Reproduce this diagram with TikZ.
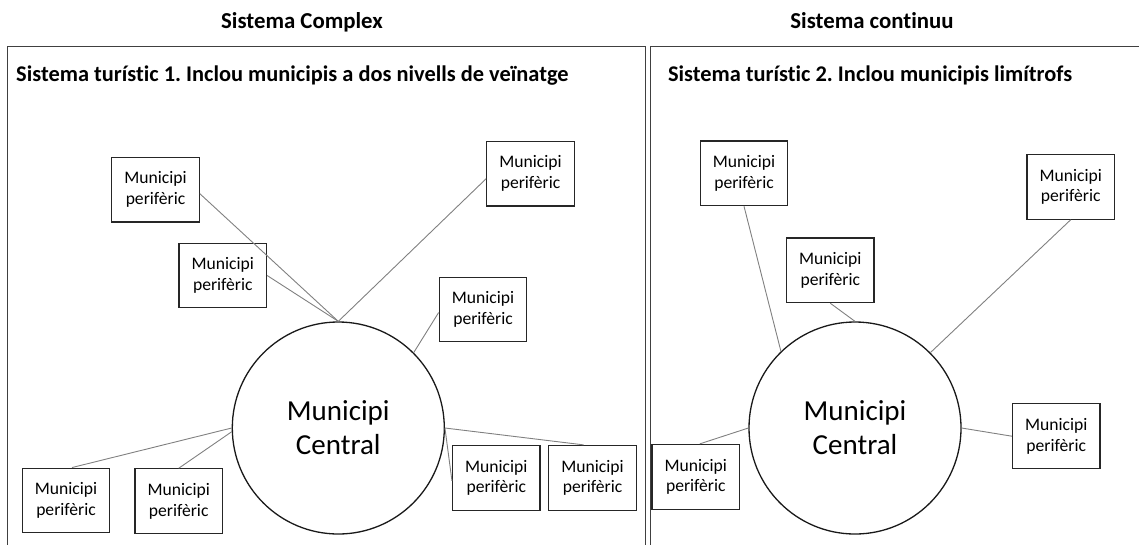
\documentclass[tikz,border=0pt]{standalone}
\usepackage{fontspec}
\setmainfont{Carlito}[Ligatures={NoCommon}]
\frenchspacing
\begin{document}
\begin{tikzpicture}[x=1pt,y=-1pt,
  peri/.style={rectangle, draw=black!85, line width=1.2pt, minimum width=87.5pt, minimum height=64.7pt, inner sep=0pt, align=center, font=\fontsize{17.6}{20.7}\selectfont},
  central/.style={circle, draw=black!90, line width=1.3pt, minimum size=212pt, inner sep=0pt, align=center, font=\fontsize{29}{34}\selectfont},
  link/.style={draw=black!50, line width=0.9pt},
  frame/.style={draw=black!75, line width=1.4pt},
  title/.style={anchor=base, font=\bfseries\fontsize{22.8}{26}\selectfont},
  subtitle/.style={anchor=base west, font=\bfseries\fontsize{22.4}{26}\selectfont}]
\useasboundingbox (0,0) rectangle (1139,544);
% frames
\draw[frame] (7.3,560) -- (7.3,46.7) -- (645.7,46.7) -- (645.7,560);
\draw[frame] (650.7,560) -- (650.7,46.7) -- (1150,46.7);
% titles
\node[title] (t1) at (302,28) {Sistema Complex};
\node[title] (t2) at (872,28) {Sistema continuu};
\node[subtitle] (s1) at (12.7,81) {Sistema turístic 1. Inclou municipis a dos nivells de veïnatge};
\node[subtitle] (s2) at (664.5,81) {Sistema turístic 2. Inclou municipis limítrofs};
% left system
\node[central] (L) at (338.3,428) {Municipi\\Central};
\node[peri] (A) at (155.5,189.7) {Municipi\\perifèric};
\node[peri] (B) at (222.8,275.5) {Municipi\\perifèric};
\node[peri] (C) at (530.5,173.7) {Municipi\\perifèric};
\node[peri] (D) at (483,309.5) {Municipi\\perifèric};
\node[peri] (E) at (66,500.5) {Municipi\\perifèric};
\node[peri] (F) at (178.7,501.2) {Municipi\\perifèric};
\node[peri] (G) at (496.3,477.8) {Municipi\\perifèric};
\node[peri] (H) at (592.5,477.8) {Municipi\\perifèric};
\draw[link] ([yshift=-4pt]A.east) -- (L.north);
\draw[link] (B.east) -- (L.north);
\draw[link] ([yshift=-5pt]C.west) -- (L.north);
\draw[link] ([yshift=-3pt]D.west) -- (L.45);
\draw[link] ([xshift=6pt]E.north) -- (L.west);
\draw[link] (F.north) -- (L.182);
\draw[link] (L.east) -- ([yshift=-3pt]G.west);
\draw[link] (L.east) -- ([xshift=-9pt]H.north);
% right system
\node[central] (R) at (855,428) {Municipi\\Central};
\node[peri] (R1) at (744,173.3) {Municipi\\perifèric};
\node[peri] (R2) at (830.3,270.3) {Municipi\\perifèric};
\node[peri] (R3) at (1070.7,186.8) {Municipi\\perifèric};
\node[peri] (R4) at (1056.2,436.2) {Municipi\\perifèric};
\node[peri] (R5) at (695.8,476.8) {Municipi\\perifèric};
\draw[link] (R1.south) -- (R.134);
\draw[link] (R2.south) -- (R.north);
\draw[link] (R3.south) -- (R.45);
\draw[link] (R.east) -- (R4.west);
\draw[link] ([xshift=4pt]R5.north) -- (R.west);
\end{tikzpicture}
\end{document}
